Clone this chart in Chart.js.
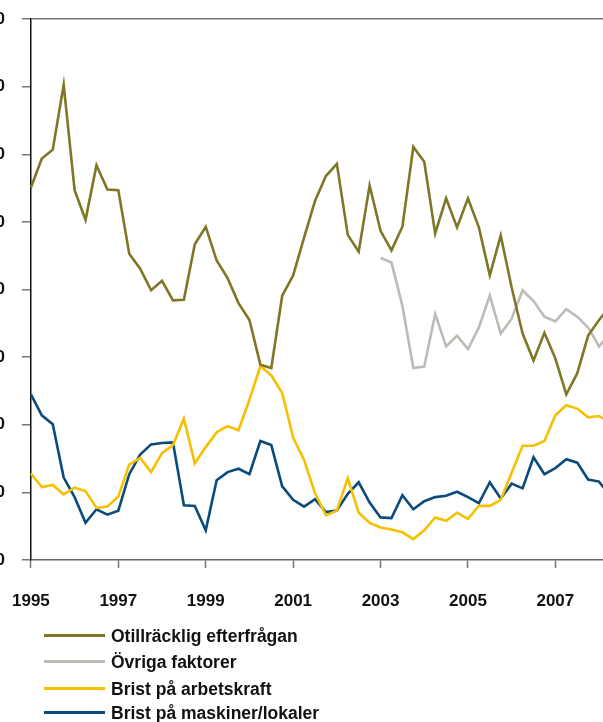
<!DOCTYPE html>
<html>
<head>
<meta charset="utf-8">
<script src="https://cdn.jsdelivr.net/npm/chart.js@4.4.1/dist/chart.umd.min.js"></script>
<style>
  html, body { margin: 0; padding: 0; background: #fff; overflow: hidden; width: 603px; height: 722px; }
  #wrap { position: relative; width: 603px; height: 722px; overflow: hidden; }
  #chart { position: absolute; left: -11px; top: -8px; }
  .legend { position: absolute; left: 0; top: 0; font-family: "Liberation Sans", Arial, sans-serif; font-weight: bold; font-size: 17.5px; color: #111; }
  .legend .row { position: absolute; left: 44px; height: 22px; line-height: 22px; white-space: nowrap; }
  .legend .swatch { position: absolute; left: 0; top: 9px; width: 61px; height: 3px; }
  .legend .txt { position: absolute; left: 67px; top: 0; }
</style>
</head>
<body>
<div id="wrap">
  <canvas id="chart" width="624" height="638" style="width:624px;height:638px"></canvas>
  <div class="legend" id="legend"></div>
</div>
<script>
// quarterly, 1995 Q1 onwards
const startYear = 1995;
const nQuarters = 54;
const yearTicks = ['1995', '1997', '1999', '2001', '2003', '2005', '2007'];

const quarters = [];
for (let i = 0; i < nQuarters; i++) {
  quarters.push((startYear + Math.floor(i / 4)) + 'K' + (i % 4 + 1));
}

const otillracklig = [
  55.1, 59.4, 60.7, 70.3, 54.7, 50.3, 58.4, 54.8, 54.7, 45.3,
  43.1, 39.9, 41.3, 38.4, 38.5, 46.7, 49.3, 44.3, 41.7, 38.0,
  35.5, 28.9, 28.4, 39.1, 42.1, 47.7, 53.1, 56.8, 58.6, 48.1,
  45.6, 55.4, 48.7, 45.8, 49.3, 61.1, 58.9, 48.3, 53.5, 49.2,
  53.5, 49.2, 42.1, 48.0, 40.3, 33.5, 29.5, 33.6, 29.8, 24.5,
  27.6, 33.2, 35.5, 37.5
];

const ovriga = [
  null, null, null, null, null, null, null, null, null, null,
  null, null, null, null, null, null, null, null, null, null,
  null, null, null, null, null, null, null, null, null, null,
  null, null, 44.7, 44.0, 37.6, 28.4, 28.6, 36.4, 31.6, 33.2,
  31.2, 34.4, 39.1, 33.5, 35.7, 39.9, 38.3, 36.0, 35.3, 37.1,
  36.0, 34.4, 31.6, 33.5
];

const arbetskraft = [
  12.8, 10.8, 11.1, 9.7, 10.7, 10.2, 7.7, 7.9, 9.4, 14.1,
  15.1, 13.0, 15.8, 17.0, 20.9, 14.3, 16.7, 18.9, 19.8, 19.2,
  23.7, 28.7, 27.3, 24.7, 18.1, 14.8, 9.9, 6.6, 7.3, 12.1,
  7.0, 5.5, 4.8, 4.5, 4.1, 3.1, 4.4, 6.3, 5.8, 7.0,
  6.1, 8.0, 8.0, 8.9, 12.9, 16.9, 16.9, 17.6, 21.4, 22.9,
  22.4, 21.1, 21.3, 20.3
];

const maskiner = [
  24.5, 21.4, 20.1, 12.2, 9.3, 5.5, 7.5, 6.7, 7.3, 12.7,
  15.6, 17.1, 17.3, 17.4, 8.1, 8.0, 4.4, 11.8, 13.0, 13.5,
  12.7, 17.6, 17.0, 10.9, 8.9, 7.9, 9.0, 7.1, 7.3, 9.8,
  11.5, 8.5, 6.3, 6.2, 9.6, 7.5, 8.7, 9.3, 9.5, 10.1,
  9.3, 8.4, 11.5, 9.1, 11.3, 10.6, 15.2, 12.7, 13.6, 14.9,
  14.4, 11.9, 11.6, 9.5
];

const seriesNames = ['Otillräcklig efterfrågan', 'Övriga faktorer', 'Brist på arbetskraft', 'Brist på maskiner/lokaler'];
const seriesColors = ['#7e7726', '#bcbcb6', '#f5c000', '#0a4a7c'];
const seriesData = [otillracklig, ovriga, arbetskraft, maskiner];

const font = { family: '"Liberation Sans", Arial, sans-serif', size: 17, weight: 'bold' };

const ctx = document.getElementById('chart').getContext('2d');
const chart = new Chart(ctx, {
  type: 'line',
  data: {
    labels: quarters,
    datasets: seriesNames.map((name, k) => ({
      label: name,
      data: seriesData[k],
      borderColor: seriesColors[k],
      backgroundColor: seriesColors[k],
      borderWidth: 2.6,
      pointRadius: 0,
      tension: 0,
      spanGaps: false,
      fill: false
    }))
  },
  options: {
    responsive: false,
    animation: false,
    layout: { padding: { top: 18, right: 3, left: 0, bottom: 0 } },
    plugins: {
      legend: { display: false },
      tooltip: { enabled: false }
    },
    scales: {
      x: {
        offset: false,
        afterFit: s => { s.height = 70; },
        border: { display: true, color: '#666', width: 1.5 },
        grid: {
          display: true,
          drawOnChartArea: false,
          tickLength: 8,
          tickColor: '#777',
          tickWidth: 1.5,
          color: '#777'
        },
        ticks: {
          autoSkip: false,
          maxRotation: 0,
          padding: 23,
          color: '#111',
          font: font,
          callback: (v, i) => (i % 8 === 0 ? yearTicks[i / 8] : null)
        }
      },
      y: {
        min: 0,
        max: 80,
        afterFit: s => { s.width = 31; },
        border: { display: true, color: '#111', width: 1.5 },
        grid: {
          drawOnChartArea: true,
          tickLength: 9,
          tickColor: '#777',
          lineWidth: 1.5,
          color: c => (c.tick && c.tick.value === 80 ? '#777' : 'rgba(0,0,0,0)')
        },
        ticks: {
          stepSize: 10,
          padding: 17,
          color: '#111',
          font: font
        }
      }
    }
  }
});

// legend, one row per series, below the plot
const legendEl = document.getElementById('legend');
const rowTops = [625, 651, 678, 702];
chart.data.datasets.forEach((ds, k) => {
  const row = document.createElement('div');
  row.className = 'row';
  row.style.top = rowTops[k] + 'px';
  row.innerHTML = '<span class="swatch" style="background:' + ds.borderColor + '"></span><span class="txt">' + ds.label + '</span>';
  legendEl.appendChild(row);
});
</script>
</body>
</html>
